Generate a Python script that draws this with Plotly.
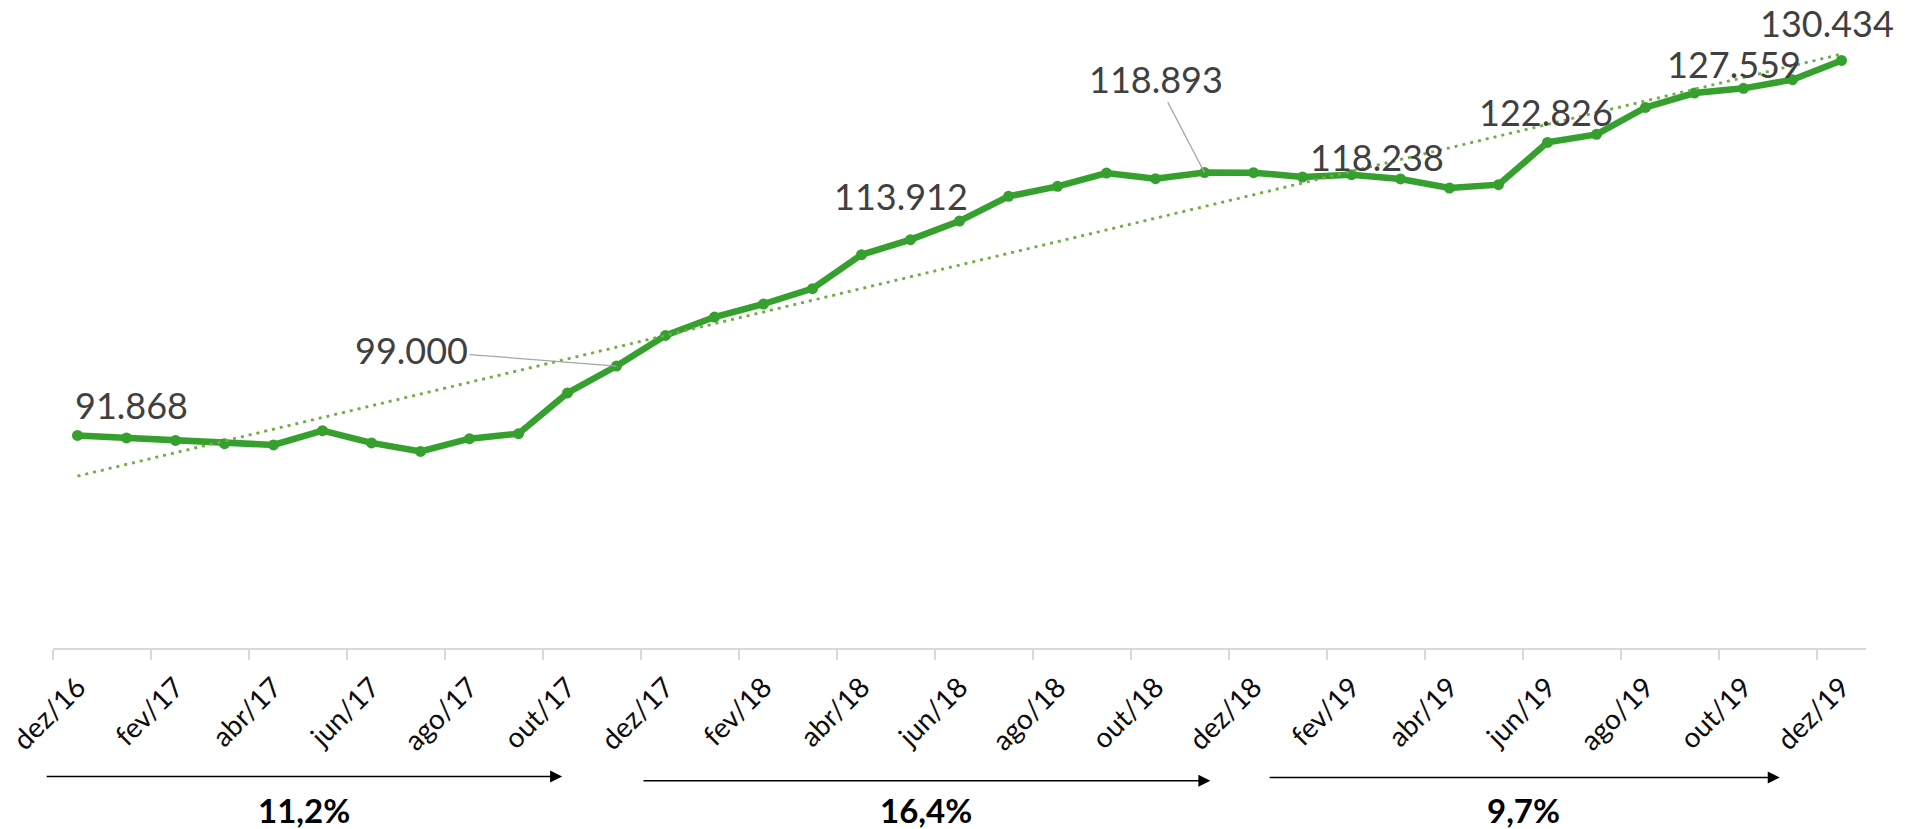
import numpy as np
import plotly.graph_objects as go

# ---------------- data ----------------
months = ["dez/16", "jan/17", "fev/17", "mar/17", "abr/17", "mai/17", "jun/17", "jul/17",
          "ago/17", "set/17", "out/17", "nov/17", "dez/17", "jan/18", "fev/18", "mar/18",
          "abr/18", "mai/18", "jun/18", "jul/18", "ago/18", "set/18", "out/18", "nov/18",
          "dez/18", "jan/19", "fev/19", "mar/19", "abr/19", "mai/19", "jun/19", "jul/19",
          "ago/19", "set/19", "out/19", "nov/19", "dez/19"]
values = [91.868, 91.60, 91.35, 91.01, 90.88, 92.35, 91.09, 90.22,
          91.53, 92.04, 96.23, 99.000, 102.15, 104.04, 105.38, 106.96,
          110.45, 112.00, 113.912, 116.45, 117.48, 118.85, 118.27, 118.893,
          118.89, 118.44, 118.68, 118.238, 117.31, 117.65, 122.00, 122.826,
          125.60, 127.08, 127.559, 128.45, 130.434]

labelled = ["dez/16", "nov/17", "jun/18", "nov/18", "mar/19", "jul/19", "out/19", "dez/19"]

periods = ["11,2%", "16,4%", "9,7%"]

# ---------------- styles ----------------
LINE_C = "#36A02E"
TREND_C = "#70AD47"
LABEL_C = "#404040"
FONT = "Lato"

idx = np.arange(len(months))
slope, intercept = np.polyfit(idx, np.array(values), 1)
trend = slope * idx + intercept

fig = go.Figure()
fig.add_trace(go.Scatter(
    x=months, y=values, mode="lines+markers",
    line=dict(color=LINE_C, width=6.5),
    marker=dict(color=LINE_C, size=11),
    hoverinfo="skip", showlegend=False))
fig.add_trace(go.Scatter(
    x=months, y=trend, mode="lines",
    line=dict(color=TREND_C, width=2.8, dash="3px,5px"),
    hoverinfo="skip", showlegend=False))

def fmt(v):
    return f"{v:.3f}"

# label offsets (pixels) relative to point: (dx, dy_up, leader)
label_pos = {
    "dez/16": (54, 30, False),
    "nov/17": (-205, 16, True),
    "jun/18": (-59, 25, False),
    "nov/18": (-49, 94, True),
    "mar/19": (-24, 22, False),
    "jul/19": (-51, 22, False),
    "out/19": (-10, 24, False),
    "dez/19": (-15, 37, False),
}
for m in labelled:
    v = values[months.index(m)]
    dx, dy, leader = label_pos[m]
    if leader:
        fig.add_annotation(x=m, y=v, text=fmt(v), showarrow=True,
                           ax=dx, ay=-dy, arrowhead=0, arrowwidth=1.2,
                           arrowcolor="#A6A6A6", standoff=0,
                           font=dict(family=FONT, size=36, color=LABEL_C))
    else:
        fig.add_annotation(x=m, y=v, text=fmt(v), showarrow=False,
                           xshift=dx, yshift=dy, xanchor="center", yanchor="middle",
                           font=dict(family=FONT, size=36, color=LABEL_C))

# growth arrows below the axis (start index, end index, paper y)
arrow_geom = [(-0.66, 9.89, -0.2035), (11.52, 23.12, -0.2099), (24.3, 34.74, -0.2051)]
for txt, (x0, x1, yp) in zip(periods, arrow_geom):
    fig.add_annotation(x=x1, y=yp, xref="x", yref="paper",
                       ax=x0, ay=0, axref="x", ayref="pixel",
                       text="", showarrow=True, arrowhead=2, arrowsize=1.6,
                       arrowwidth=1.5, arrowcolor="#000000", standoff=0)
    fig.add_annotation(x=(x0 + x1) / 2, y=-0.2557, xref="x", yref="paper",
                       text=f"<b>{txt}</b>", showarrow=False,
                       xanchor="center", yanchor="middle",
                       font=dict(family=FONT, size=33, color="#000000"))

fig.update_xaxes(
    type="category", categoryorder="array", categoryarray=months,
    range=[-0.5, len(months) - 0.5],
    dtick=2, tick0=0, tickson="boundaries",
    ticks="outside", ticklen=10, tickwidth=1.5, tickcolor="#D9D9D9",
    showline=True, linecolor="#D9D9D9", linewidth=1.5,
    showgrid=False, zeroline=False,
    tickangle=-45, ticklabelstandoff=10,
    tickfont=dict(family=FONT, size=28, color="#0D0D0D"),
)
fig.update_yaxes(range=[70, 135], visible=False, showgrid=False, zeroline=False)

fig.update_layout(
    width=1919, height=829,
    margin=dict(l=53, r=53, t=16, b=181, autoexpand=False),
    paper_bgcolor="white", plot_bgcolor="white",
    showlegend=False,
)

fig.write_html("out.html", config={"displayModeBar": False},
               post_script="document.body.style.margin='0';document.body.style.overflow='hidden';")
